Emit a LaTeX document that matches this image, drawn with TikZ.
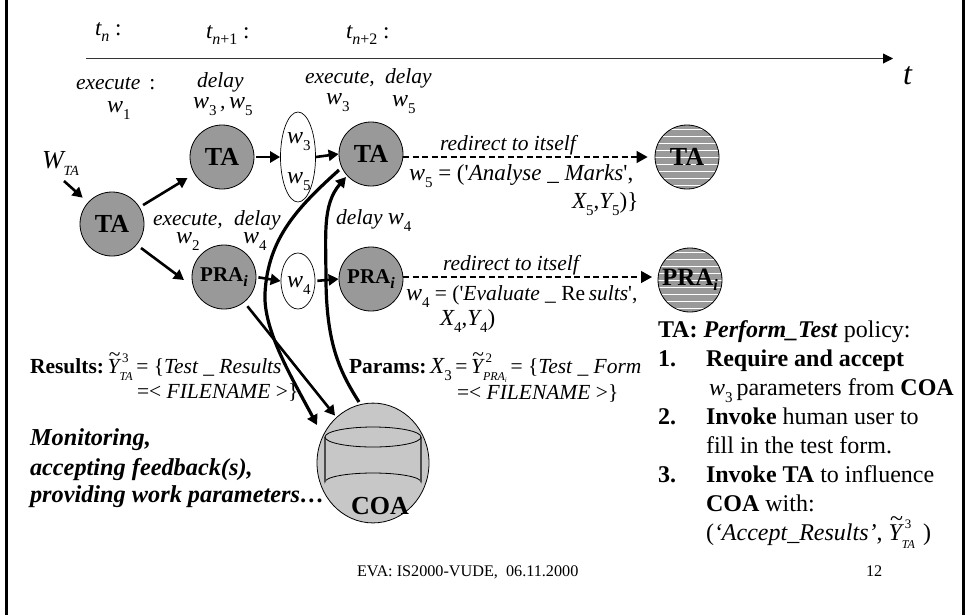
\documentclass[tikz,border=0pt]{standalone}
\usepackage{fontspec}
\setmainfont{Liberation Serif}
\usetikzlibrary{arrows.meta,shapes.geometric}
\definecolor{agentgray}{gray}{0.6}
\definecolor{coagray}{gray}{0.78}
\newcommand\sbs[2]{#1\raisebox{-.32em}{\fontsize{15}{15}\selectfont\upshape #2}}
\newcommand\wsub[1]{{\fontsize{24}{24}\selectfont\itshape\sbs{w}{#1}}}
\newcommand\Xs[2]{{\fontsize{23}{23}\selectfont\itshape\sbs{#1}{#2}}}
\newcommand\Ytil[2]{{\itshape\rlap{\hspace{.06em}\raisebox{.55em}{\upshape\textasciitilde}}Y\rlap{\hspace{.12em}\raisebox{.5em}{\fontsize{13}{13}\selectfont\upshape #1}}\raisebox{-.35em}{\fontsize{12}{12}\selectfont\itshape #2}\,}}
\tikzset{
 agent/.style={circle,draw=black,line width=.8pt,fill=agentgray,minimum size=64pt,inner sep=0pt,font=\fontsize{26}{26}\selectfont\bfseries},
 pra/.style={agent,font=\fontsize{21}{21}\selectfont\bfseries},
 striped/.style={agent,path picture={
   \foreach \d in {-28,-21,...,28}{\draw[white,line width=.9pt] ([yshift=\d pt]path picture bounding box.west) -- ([yshift=\d pt]path picture bounding box.east);}}},
 wbub/.style={ellipse,draw=black,line width=.7pt,fill=white,inner sep=0pt},
 flow/.style={line width=2.6pt,-{Triangle[length=10pt,width=11pt]}},
 thickcurve/.style={line width=3.2pt,-{Triangle[length=10pt,width=11pt]}},
 redir/.style={line width=1.3pt,dash pattern=on 6pt off 3.5pt,-{Triangle[length=11pt,width=12pt]}},
 lab/.style={anchor=base west,inner sep=0pt,outer sep=0pt,font=\fontsize{21.5}{21.5}\selectfont\itshape},
 reslab/.style={lab,font=\fontsize{21.5}{21.5}\selectfont},
 monlab/.style={lab,font=\fontsize{24.3}{24.3}\selectfont\bfseries\itshape},
 pol/.style={lab,font=\fontsize{24}{24}\selectfont},
 foot/.style={lab,font=\fontsize{16.2}{16.2}\selectfont},
}
\begin{document}
\begin{tikzpicture}[x=1pt,y=-1pt]
\useasboundingbox (0,0) rectangle (965,614);
\fill[white] (0,0) rectangle (965,614);
% frame
\draw[line width=2.8pt] (6.5,-2) -- (6.5,616);
\draw[line width=2.8pt] (963.5,-2) -- (963.5,616);
% time axis
\coordinate (axs) at (86,58.5);
\coordinate (axe) at (893,58.5);
\draw[line width=.9pt,black!80,-{Triangle[length=10pt,width=10pt,black]}] (axs) -- (axe);
\node[lab,font=\fontsize{32}{32}\selectfont\itshape] (tlab) at (903,84) {t};
\node[lab,font=\fontsize{23}{23}\selectfont\itshape] (t0) at (95,35) {t\raisebox{-.3em}{\fontsize{16}{16}\selectfont n}\ \upshape:};
\node[lab,font=\fontsize{23}{23}\selectfont\itshape] (t1) at (206,38) {t\raisebox{-.3em}{\fontsize{16}{16}\selectfont n\upshape+1}\ \upshape:};
\node[lab,font=\fontsize{23}{23}\selectfont\itshape] (t2) at (346,38) {t\raisebox{-.3em}{\fontsize{16}{16}\selectfont n\upshape+2}\ \upshape:};
% upper labels
\node[lab] (e1) at (76,89) {execute\,\ \upshape:};
\node[lab] (w1) at (107,112) {\wsub{1}};
\node[lab] (d1) at (197,87) {delay};
\node[lab] (w35a) at (193,108) {\wsub{3}\,,\,\wsub{5}};
\node[lab] (e2) at (305,83) {execute,};
\node[lab] (d2) at (385,83) {delay};
\node[lab] (w3a) at (326,104) {\wsub{3}};
\node[lab] (w5a) at (392,106) {\wsub{5}};
\node[lab,font=\fontsize{26}{26}\selectfont\itshape] (wta) at (42,168) {W\raisebox{-.3em}{\fontsize{14}{14}\selectfont TA}};
\coordinate (wtas) at (64,181);
% agents
\node[agent] (a0) at (112,224) {TA};
\node[agent] (a1) at (222,157) {TA};
\node[agent] (a2) at (371,154) {TA};
\node[pra] (p1) at (224,277) {PRA\raisebox{-.2em}{\itshape\fontsize{16}{16}\selectfont i}};
\node[pra] (p2) at (371,279) {PRA\raisebox{-.2em}{\itshape\fontsize{16}{16}\selectfont i}};
\node[striped] (a3) at (687,157) {TA};
\node[striped,font=\fontsize{25}{25}\selectfont\bfseries] (p3) at (690,280) {PRA\raisebox{-.2em}{\itshape\fontsize{16}{16}\selectfont i}};
% bubbles
\node[wbub,minimum width=35pt,minimum height=90pt] (b35) at (298,157) {};
\node[lab] (b3t) at (287,143) {\wsub{3}};
\node[lab] (b5t) at (287,183) {\wsub{5}};
\node[wbub,minimum width=34pt,minimum height=56pt] (b4) at (298,281) {};
\node[lab] (b4t) at (287,287) {\wsub{4}};
% coa
\node[circle,draw=black,line width=.8pt,fill=coagray,minimum size=112pt,inner sep=0pt,yscale=1.07] (coa) at (373,463) {};
\filldraw[fill=coagray,draw=black,line width=.8pt] (325,437) -- (325,482) arc[start angle=180,end angle=360,x radius=48,y radius=9] -- (421,437);
\draw[draw=black!70,line width=1.4pt] (325,437) -- (325,482) (421,437) -- (421,482);
\draw[fill=coagray,draw=black,line width=.8pt] (373,437) ellipse[x radius=48,y radius=10];
\node[lab,font=\fontsize{26}{26}\selectfont\bfseries] (coat) at (351,514) {COA};
% arrows
\coordinate (a0d) at (141,248);
\coordinate (p1l) at (184,280);
\draw[flow,shorten >=7pt] (wtas) -- (a0);
\draw[flow,shorten <=4pt,shorten >=8pt] (a0) -- (a1);
\draw[flow] (a0d) -- (p1l);
\draw[flow,shorten <=2pt] (a1.east) -- (b35.west);
\draw[flow] (b35.east) -- (a2.west);
\draw[flow,shorten <=2pt] (p1.east) -- (b4.west);
\draw[flow,shorten <=2pt] (b4.east) -- (p2.west);
\draw[flow,shorten <=5pt,shorten >=2pt] (p1) -- (coa);
% thick curves
\coordinate (c1s) at (339,170);
\coordinate (c1m) at (265,293);
\coordinate (c1e) at (317,425);
\coordinate (c2s) at (359,402);
\coordinate (c2m) at (326,283);
\coordinate (c2e) at (346,177);
\draw[thickcurve] (c1s) .. controls (298,207) and (268,238) .. (c1m) .. controls (263,330) and (292,378) .. (c1e);
\draw[thickcurve] (c2s) .. controls (340,372) and (327,345) .. (c2m) .. controls (326,235) and (322,205) .. (c2e);
% redirect
\coordinate (r1s) at (403,157);
\coordinate (r2s) at (403,277);
\coordinate (r2e) at (652,277);
\draw[redir,shorten >=7pt] (r1s) -- (a3.west);
\draw[redir] (r2s) -- (r2e);
\node[lab] (r1) at (440,150) {redirect to itself};
\node[lab] (r2) at (443,270) {redirect to itself};
\node[lab,font=\fontsize{23}{23}\selectfont\itshape] (f1) at (409,180) {\wsub{5} \upshape= (\textquotesingle\itshape Analyse \_ Marks\upshape\textquotesingle,};
\node[lab,font=\fontsize{23}{23}\selectfont\itshape] (f2) at (572,208) {\Xs{X}{5}\upshape,\Xs{Y}{5}\upshape)\}};
\node[lab,font=\fontsize{21.5}{21.5}\selectfont\itshape] (f3) at (406,300) {\wsub{4} \upshape= (\textquotesingle\itshape Evaluate \_ \upshape Re\itshape\,sults\upshape\textquotesingle,};
\node[lab,font=\fontsize{23}{23}\selectfont\itshape] (f4) at (440,325) {\Xs{X}{4}\upshape,\Xs{Y}{4}\upshape)};
\node[lab] (e3) at (153,225) {execute,};
\node[lab] (d3) at (234,225) {delay};
\node[lab] (w2a) at (176,243) {\wsub{2}};
\node[lab] (w4a) at (243,243) {\wsub{4}};
\node[lab] (d4) at (336,224) {delay \wsub{4}};
% results & params
\node[reslab] (res) at (30,373) {\textbf{Results:}\,\Ytil{3}{TA}\upshape= \{\itshape Test \_ Results};
\node[reslab] (res2) at (137,398) {\upshape=< \itshape FILENAME \upshape>\}};
\node[reslab] (par) at (349,373) {\textbf{Params:}\,\Xs{X}{3}\,\upshape=\,\Ytil{2}{PRA\raisebox{-.2em}{\fontsize{7}{7}\selectfont i}}\upshape= \{\itshape Test \_ Form};
\node[reslab] (par2) at (457,399) {\upshape=< \itshape FILENAME \upshape>\}};
\node[monlab] (m1) at (30,445) {Monitoring,};
\node[monlab] (m2) at (30,475) {accepting feedback(s),};
\node[monlab] (m3) at (30,502) {providing work parameters…};
% policy
\node[pol] (q0) at (658,337) {\textbf{TA:} \textit{\textbf{Perform\_Test}} policy:};
\node[pol] (q1) at (658,366) {\textbf{1.}};
\node[pol] (q1a) at (706,366) {\textbf{Require and accept}};
\node[pol] (q1b) at (709,395) {\wsub{3}\,parameters from \textbf{COA}};
\node[pol] (q2) at (658,424) {\textbf{2.}};
\node[pol] (q2a) at (706,424) {\textbf{Invoke} human user to};
\node[pol] (q2b) at (706,453) {fill in the test form.};
\node[pol] (q3) at (658,482) {\textbf{3.}};
\node[pol] (q3a) at (706,482) {\textbf{Invoke TA} to influence};
\node[pol] (q3b) at (706,511) {\textbf{COA} with:};
\node[pol] (q3c) at (706,540) {(\textit{‘Accept\_Results’},\ \Ytil{3}{TA}\,)};
% footer
\node[foot] (footer) at (357,576) {EVA: IS2000-VUDE,\ \ 06.11.2000};
\node[foot] (pg) at (866,576) {12};
\end{tikzpicture}
\end{document}
